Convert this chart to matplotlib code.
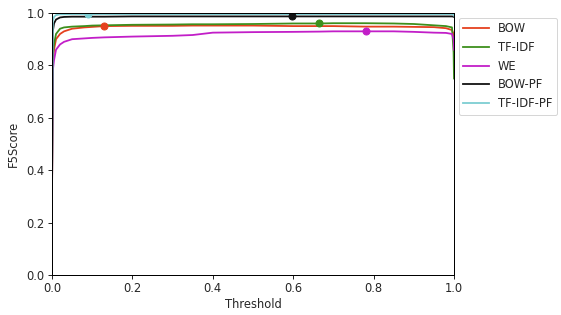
import matplotlib
matplotlib.use("Agg")
import matplotlib.pyplot as plt

thresholds = [0.0, 0.002, 0.005, 0.01, 0.02, 0.03, 0.05, 0.08, 0.10, 0.13, 0.2, 0.3, 0.35, 0.4, 0.5, 0.6, 0.665, 0.7, 0.78, 0.85, 0.9, 0.95, 0.98, 0.995, 0.999, 1.0]

bow = [0.30, 0.80, 0.86, 0.90, 0.92, 0.93, 0.94, 0.945, 0.947, 0.950, 0.951, 0.951, 0.952, 0.952, 0.952, 0.950, 0.950, 0.950, 0.948, 0.948, 0.947, 0.946, 0.942, 0.935, 0.92, 0.90]
tfidf = [0.30, 0.84, 0.88, 0.92, 0.94, 0.945, 0.948, 0.950, 0.952, 0.953, 0.955, 0.956, 0.957, 0.957, 0.958, 0.960, 0.960, 0.961, 0.961, 0.960, 0.958, 0.953, 0.950, 0.945, 0.85, 0.75]
we = [0.30, 0.78, 0.82, 0.86, 0.88, 0.89, 0.900, 0.903, 0.905, 0.907, 0.910, 0.913, 0.916, 0.925, 0.927, 0.928, 0.929, 0.930, 0.930, 0.930, 0.928, 0.925, 0.924, 0.92, 0.90, 0.86]
bow_pf = [0.30, 0.93, 0.96, 0.975, 0.983, 0.985, 0.986, 0.986, 0.986, 0.986, 0.987, 0.987, 0.987, 0.987, 0.987, 0.987, 0.987, 0.987, 0.987, 0.987, 0.987, 0.987, 0.987, 0.987, 0.986, 0.985]
tfidf_pf = [0.30, 0.97, 0.985, 0.992, 0.995, 0.995, 0.996, 0.996, 0.996, 0.996, 0.996, 0.996, 0.996, 0.996, 0.996, 0.996, 0.996, 0.996, 0.996, 0.996, 0.996, 0.996, 0.996, 0.996, 0.995, 0.99]

labels = ["BOW", "TF-IDF", "WE", "BOW-PF", "TF-IDF-PF"]
best_x = [0.13, 0.665, 0.78, 0.597, 0.09]
best_y = [0.950, 0.960, 0.930, 0.990, 0.996]

colors = ["#e5401e", "#3d8f1c", "#c21ec8", "#111111", "#7ccdd2"]
series = [bow, tfidf, we, bow_pf, tfidf_pf]

fs = 11.5
plt.rcParams['font.family'] = ['DejaVu Sans']
plt.rcParams['text.color'] = '#262626'
plt.rcParams['axes.labelcolor'] = '#262626'
plt.rcParams['xtick.color'] = '#262626'
plt.rcParams['ytick.color'] = '#262626'
fig = plt.figure(figsize=(561/72, 315/72), dpi=72)
ax = fig.add_axes([52/561, 1 - 275/315, 402/561, 262/315])

for s, lab, c in zip(series, labels, colors):
    ax.plot(thresholds, s, color=c, label=lab, lw=1.8)
for bx, by, c in zip(best_x, best_y, colors):
    ax.plot([bx], [by], 'o', color=c, ms=7)

ax.set_xlim(0, 1)
ax.set_ylim(0, 1)
ax.set_xlabel("Threshold", fontsize=fs, labelpad=2)
ax.set_ylabel("F5Score", fontsize=fs, labelpad=6)
ax.tick_params(labelsize=fs, width=1.0, length=4)
for sp in ax.spines.values():
    sp.set_linewidth(1.0)
leg = ax.legend(loc='upper left', bbox_to_anchor=(1.0, 1.0), fontsize=fs, frameon=True,
                handlelength=2.2, borderaxespad=0.4)
fig.savefig("out.png", dpi=72)
